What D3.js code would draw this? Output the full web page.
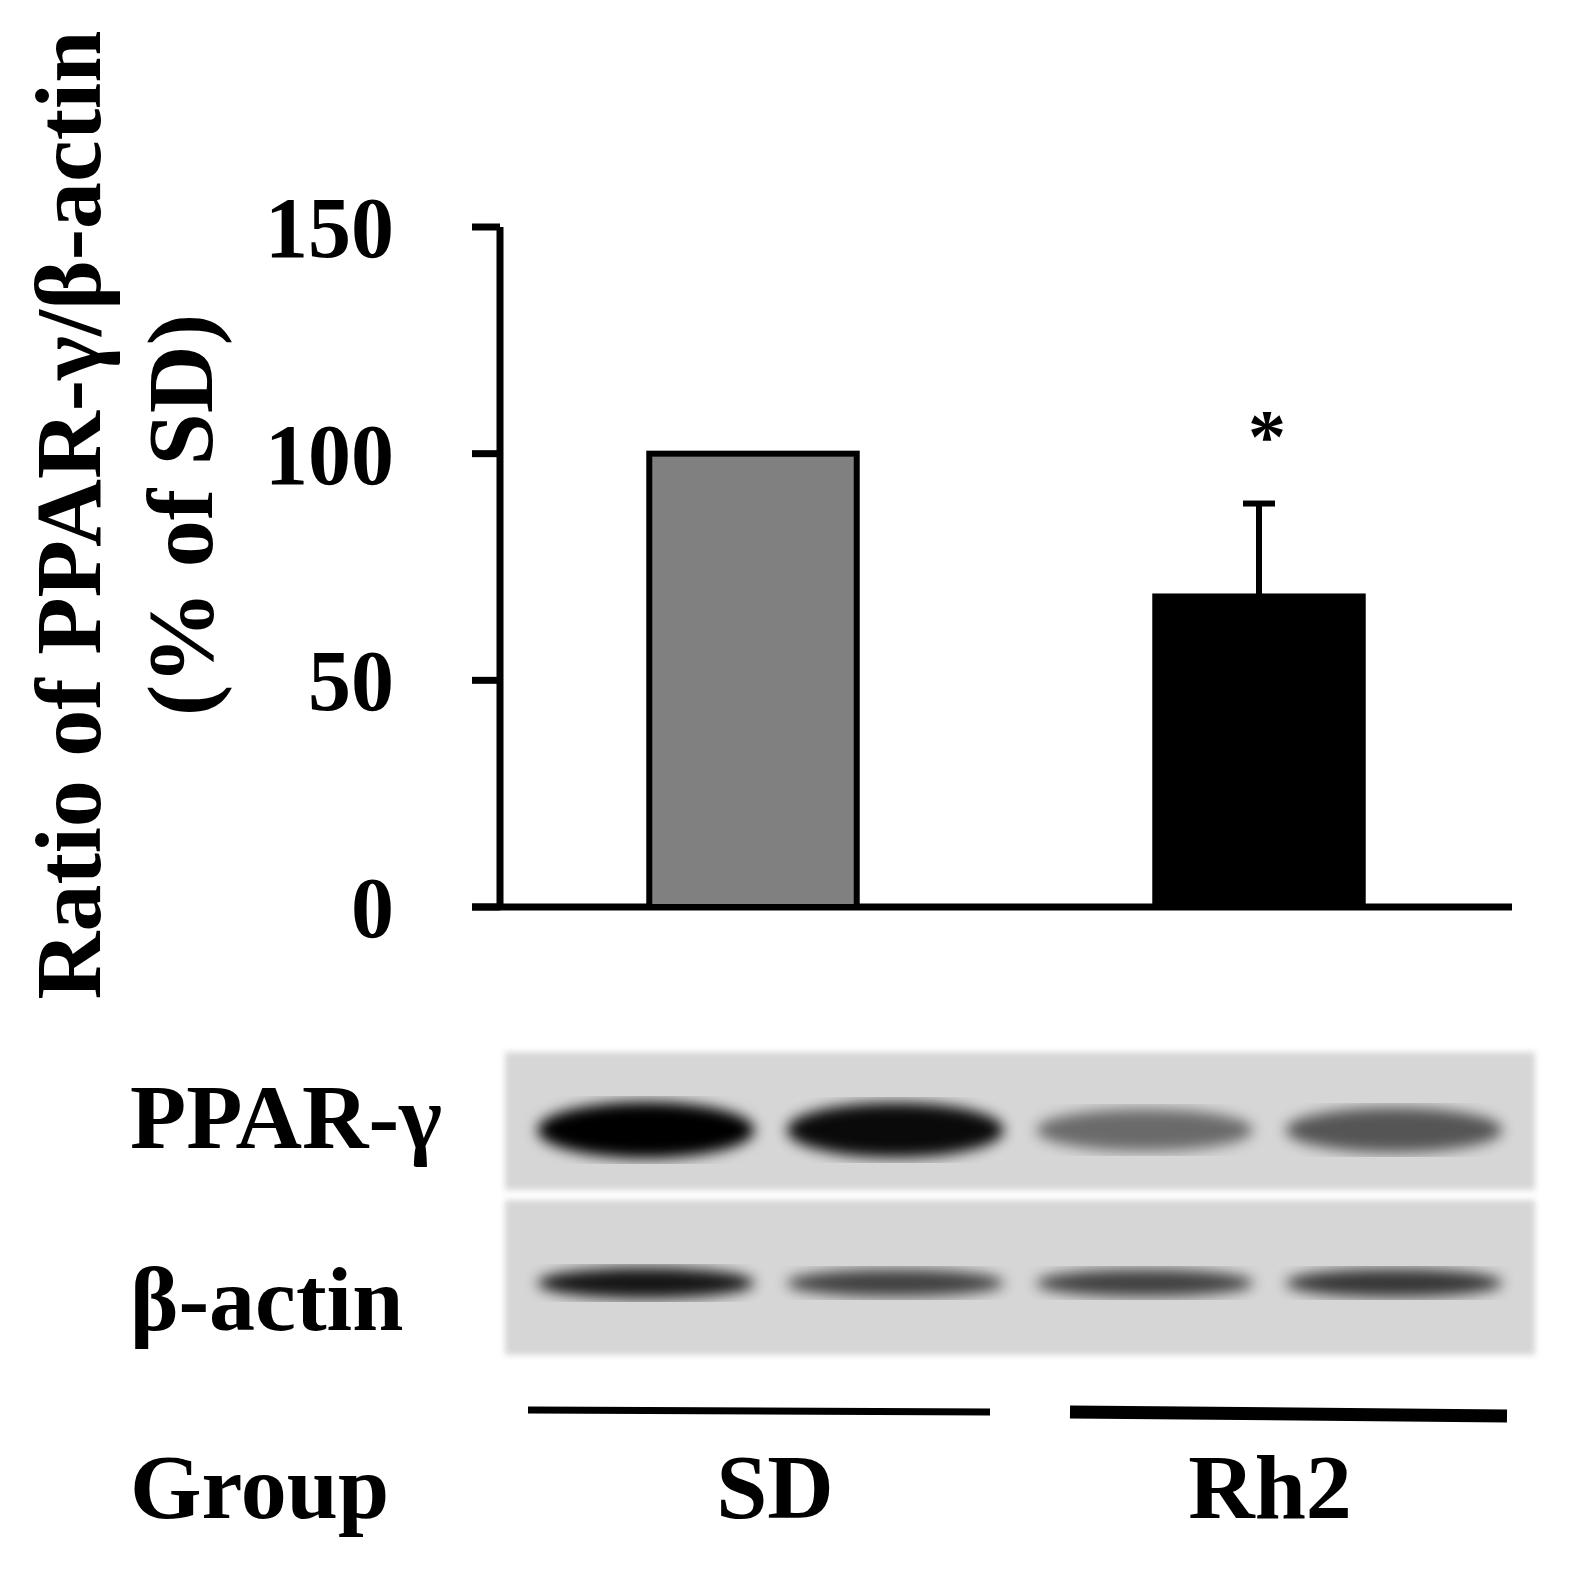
<!DOCTYPE html>
<html><head><meta charset="utf-8">
<script src="https://cdn.jsdelivr.net/npm/d3@7"></script>
<style>body{margin:0;background:#fff}</style>
</head><body><div id="root"></div>
<script>
const groups = ['SD', 'Rh2'];
const values = [100, 68.5];
const errors = [0, 20.5];
const barColors = ['#808080', '#000000'];
const yTicks = [0, 50, 100, 150];
const lanes = [0, 1, 2, 3];
const pparBand = [1.0, 0.95, 0.5, 0.6];   // relative band darkness
const actinBand = [0.9, 0.7, 0.7, 0.75];
const font = '"Liberation Serif", "DejaVu Serif", serif';

const svg = d3.select('#root').append('svg')
  .attr('width', 1584).attr('height', 1576);

const y = d3.scaleLinear().domain([0, 150]).range([907, 227]);
const x = d3.scaleBand().domain(groups).range([500, 1512]).paddingInner(0.59).paddingOuter(0.295);

// axis
svg.append('line').attr('x1', 472).attr('x2', 1512).attr('y1', y(0)).attr('y2', y(0))
  .attr('stroke', '#000').attr('stroke-width', 7);
svg.append('line').attr('x1', 500).attr('x2', 500).attr('y1', y(0)).attr('y2', y(150))
  .attr('stroke', '#000').attr('stroke-width', 7);
svg.selectAll('.tick').data(yTicks).enter().append('line')
  .attr('x1', 472).attr('x2', 500).attr('y1', d => y(d)).attr('y2', d => y(d))
  .attr('stroke', '#000').attr('stroke-width', 7);
svg.selectAll('.tl').data(yTicks).enter().append('text')
  .attr('x', 394).attr('y', d => y(d) + 30).attr('text-anchor', 'end')
  .attr('font-family', font).attr('font-weight', 'bold').attr('font-size', 86)
  .text(d => d);

// bars
svg.selectAll('.bar').data(groups).enter().append('rect')
  .attr('x', d => x(d)).attr('width', x.bandwidth())
  .attr('y', (d, i) => y(values[i])).attr('height', (d, i) => y(0) - y(values[i]))
  .attr('fill', (d, i) => barColors[i]).attr('stroke', '#000').attr('stroke-width', 6);
groups.forEach((g, i) => {
  if (!errors[i]) return;
  const cx = x(g) + x.bandwidth() / 2;
  svg.append('line').attr('x1', cx).attr('x2', cx).attr('y1', y(values[i])).attr('y2', y(values[i] + errors[i]))
    .attr('stroke', '#000').attr('stroke-width', 6);
  svg.append('line').attr('x1', cx - 16).attr('x2', cx + 16).attr('y1', y(values[i] + errors[i])).attr('y2', y(values[i] + errors[i]))
    .attr('stroke', '#000').attr('stroke-width', 6);
  svg.append('text').attr('x', cx + 8).attr('y', y(values[i] + errors[i]) - 42).attr('text-anchor', 'middle')
    .attr('font-family', font).attr('font-weight', 'bold').attr('font-size', 76).text('*');
});

// y label
const yl = svg.append('text').attr('transform', 'translate(0,515) rotate(-90)')
  .attr('text-anchor', 'middle').attr('font-family', font).attr('font-weight', 'bold').attr('font-size', 94);
yl.append('tspan').attr('x', 0).attr('y', 100).text('Ratio of PPAR-γ/β-actin');
yl.append('tspan').attr('x', 0).attr('y', 212).text('(% of SD)');

// blot
const defs = svg.append('defs');
defs.append('filter').attr('id', 'blur').append('feGaussianBlur').attr('stdDeviation', 7);
defs.append('filter').attr('id', 'blur2').append('feGaussianBlur').attr('stdDeviation', 3);
const lx = d3.scaleBand().domain(lanes).range([515, 1525]).padding(0.05);
[[1052, 1190, pparBand, 1130, 28], [1200, 1355, actinBand, 1283, 16]].forEach(([t, b, band, cy, ry]) => {
  svg.append('rect').attr('x', 505).attr('y', t).attr('width', 1030).attr('height', b - t)
    .attr('fill', '#d6d6d6').attr('filter', 'url(#blur2)');
  svg.selectAll(null).data(lanes).enter().append('ellipse')
    .attr('cx', d => lx(d) + lx.bandwidth() / 2).attr('cy', cy)
    .attr('rx', lx.bandwidth() / 2 - 10).attr('ry', (d) => ry * (0.5 + band[d] / 2))
    .attr('fill', '#000')
    .attr('opacity', d => band[d]).attr('filter', 'url(#blur)');
});

const lab = (t, xx, yy, anchor) => svg.append('text').attr('x', xx).attr('y', yy).attr('text-anchor', anchor || 'start')
  .attr('font-family', font).attr('font-weight', 'bold').attr('font-size', 92).text(t);
lab('PPAR-γ', 130, 1148);
lab('β-actin', 130, 1330);
lab('Group', 130, 1518);
lab('SD', 775, 1518, 'middle');
lab('Rh2', 1270, 1518, 'middle');
svg.append('line').attr('x1', 528).attr('x2', 990).attr('y1', 1410).attr('y2', 1412).attr('stroke', '#000').attr('stroke-width', 7);
svg.append('line').attr('x1', 1070).attr('x2', 1507).attr('y1', 1412).attr('y2', 1416).attr('stroke', '#000').attr('stroke-width', 13);
</script></body></html>
